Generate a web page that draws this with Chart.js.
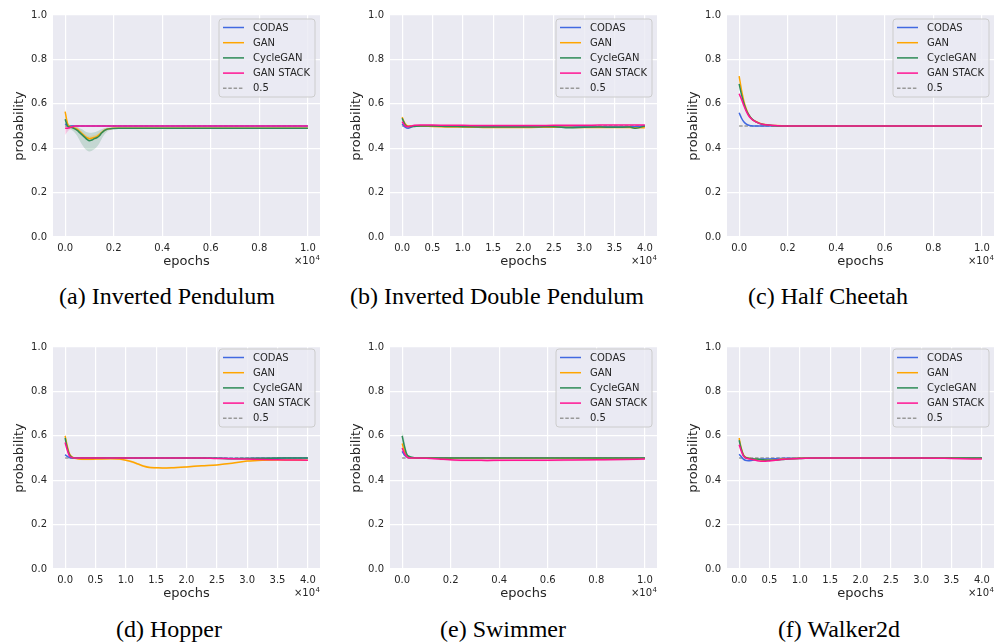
<!DOCTYPE html>
<html><head><meta charset="utf-8">
<script src="https://cdn.jsdelivr.net/npm/chart.js@4.4.0/dist/chart.umd.min.js"></script>
<style>
html,body{margin:0;padding:0;background:#fff;width:994px;height:642px;overflow:hidden;position:relative;}
.cap{position:absolute;font-family:"Liberation Serif","Times New Roman",serif;font-size:24px;color:#000;white-space:nowrap;transform:translate(-50%,-50%);}
</style></head><body>
<script>
// ---------- labels ----------
const seriesNames = ['CODAS', 'GAN', 'CycleGAN', 'GAN STACK', '0.5'];
const yTicks = [0, 0.2, 0.4, 0.6, 0.8, 1.0];
const yTickLabels = ['0.0', '0.2', '0.4', '0.6', '0.8', '1.0'];
const xTicks10k = [0, 2000, 4000, 6000, 8000, 10000];
const xTickLabels10k = ['0.0', '0.2', '0.4', '0.6', '0.8', '1.0'];
const xTicks40k = [0, 5000, 10000, 15000, 20000, 25000, 30000, 35000, 40000];
const xTickLabels40k = ['0.0', '0.5', '1.0', '1.5', '2.0', '2.5', '3.0', '3.5', '4.0'];
const captions = ['(a) Inverted Pendulum', '(b) Inverted Double Pendulum', '(c) Half Cheetah', '(d) Hopper', '(e) Swimmer', '(f) Walker2d'];

// ---------- (a) Inverted Pendulum ----------
const a_x        = [0, 100, 200, 300, 400, 500, 600, 700, 800, 900, 1000, 1100, 1200, 1300, 1400, 1500, 1600, 1700, 1800, 2000, 2200, 2500, 3000, 4000, 5000, 6000, 7000, 8000, 9000, 10000];
const a_codas    = [0.51, 0.502, 0.5, 0.5, 0.5, 0.5, 0.5, 0.5, 0.5, 0.5, 0.5, 0.5, 0.5, 0.5, 0.5, 0.5, 0.5, 0.5, 0.5, 0.5, 0.5, 0.5, 0.5, 0.5, 0.5, 0.5, 0.5, 0.5, 0.5, 0.5];
const a_gan      = [0.565, 0.51, 0.498, 0.495, 0.49, 0.485, 0.475, 0.465, 0.455, 0.447, 0.443, 0.445, 0.448, 0.452, 0.46, 0.47, 0.479, 0.485, 0.488, 0.49, 0.49, 0.49, 0.49, 0.49, 0.49, 0.49, 0.49, 0.49, 0.49, 0.49];
const a_gan_lo   = [0.55, 0.5, 0.49, 0.487, 0.482, 0.476, 0.465, 0.455, 0.445, 0.437, 0.432, 0.434, 0.437, 0.442, 0.45, 0.462, 0.472, 0.48, 0.485, 0.487, 0.488, 0.488, 0.488, 0.488, 0.488, 0.488, 0.488, 0.488, 0.488, 0.488];
const a_gan_hi   = [0.58, 0.52, 0.505, 0.502, 0.498, 0.493, 0.485, 0.475, 0.465, 0.457, 0.454, 0.456, 0.459, 0.463, 0.47, 0.478, 0.486, 0.49, 0.491, 0.492, 0.492, 0.492, 0.492, 0.492, 0.492, 0.492, 0.492, 0.492, 0.492, 0.492];
const a_cycle    = [0.53, 0.5, 0.495, 0.492, 0.487, 0.48, 0.47, 0.46, 0.45, 0.44, 0.434, 0.437, 0.443, 0.447, 0.455, 0.468, 0.478, 0.484, 0.487, 0.489, 0.49, 0.49, 0.49, 0.49, 0.49, 0.49, 0.49, 0.49, 0.49, 0.49];
const a_cycle_lo = [0.51, 0.49, 0.485, 0.48, 0.47, 0.455, 0.435, 0.415, 0.4, 0.39, 0.385, 0.388, 0.395, 0.405, 0.42, 0.44, 0.46, 0.472, 0.48, 0.486, 0.488, 0.488, 0.488, 0.488, 0.488, 0.488, 0.488, 0.488, 0.488, 0.488];
const a_cycle_hi = [0.55, 0.51, 0.5, 0.498, 0.497, 0.495, 0.49, 0.485, 0.478, 0.472, 0.47, 0.47, 0.472, 0.475, 0.48, 0.485, 0.49, 0.492, 0.493, 0.493, 0.492, 0.492, 0.492, 0.492, 0.492, 0.492, 0.492, 0.492, 0.492, 0.492];
const a_stack    = [0.49, 0.49, 0.493, 0.497, 0.5, 0.5, 0.5, 0.5, 0.5, 0.5, 0.5, 0.5, 0.5, 0.5, 0.5, 0.5, 0.5, 0.5, 0.5, 0.5, 0.5, 0.5, 0.5, 0.5, 0.5, 0.5, 0.5, 0.5, 0.5, 0.5];
const a_stack_lo = [0.46, 0.475, 0.487, 0.495, 0.498, 0.499, 0.499, 0.499, 0.499, 0.499, 0.499, 0.499, 0.499, 0.499, 0.499, 0.499, 0.499, 0.499, 0.499, 0.499, 0.499, 0.499, 0.499, 0.499, 0.499, 0.499, 0.499, 0.499, 0.499, 0.499];
const a_stack_hi = [0.51, 0.5, 0.5, 0.5, 0.502, 0.501, 0.501, 0.501, 0.501, 0.501, 0.501, 0.501, 0.501, 0.501, 0.501, 0.501, 0.501, 0.501, 0.501, 0.501, 0.501, 0.501, 0.501, 0.501, 0.501, 0.501, 0.501, 0.501, 0.501, 0.501];

// ---------- (b) Inverted Double Pendulum ----------
const b_x     = [0, 500, 1000, 1500, 2000, 3000, 5000, 7500, 10000, 12500, 15000, 17500, 20000, 22500, 25000, 27500, 30000, 32500, 35000, 37500, 38500, 40000];
const b_codas = [0.51, 0.495, 0.49, 0.495, 0.5, 0.5, 0.5, 0.499, 0.498, 0.497, 0.497, 0.497, 0.497, 0.497, 0.497, 0.497, 0.497, 0.497, 0.497, 0.497, 0.497, 0.5];
const b_gan   = [0.54, 0.51, 0.5, 0.5, 0.5, 0.5, 0.498, 0.496, 0.495, 0.494, 0.493, 0.493, 0.493, 0.494, 0.494, 0.494, 0.493, 0.493, 0.493, 0.493, 0.492, 0.492];
const b_cycle = [0.535, 0.505, 0.497, 0.497, 0.498, 0.5, 0.5, 0.498, 0.497, 0.496, 0.495, 0.495, 0.495, 0.496, 0.497, 0.492, 0.494, 0.495, 0.494, 0.495, 0.49, 0.5];
const b_stack = [0.52, 0.5, 0.497, 0.5, 0.503, 0.504, 0.504, 0.503, 0.503, 0.502, 0.502, 0.502, 0.502, 0.502, 0.503, 0.503, 0.503, 0.504, 0.504, 0.505, 0.505, 0.505];

// ---------- (c) Half Cheetah ----------
const c_x     = [0, 100, 200, 300, 400, 500, 600, 800, 1000, 1200, 1500, 2000, 3000, 5000, 7500, 10000];
const c_codas = [0.56, 0.535, 0.518, 0.508, 0.503, 0.501, 0.5, 0.5, 0.5, 0.5, 0.5, 0.5, 0.5, 0.5, 0.5, 0.5];
const c_gan   = [0.725, 0.66, 0.61, 0.575, 0.55, 0.535, 0.525, 0.515, 0.508, 0.505, 0.502, 0.5, 0.5, 0.5, 0.5, 0.5];
const c_cycle = [0.69, 0.64, 0.6, 0.57, 0.55, 0.535, 0.525, 0.513, 0.507, 0.504, 0.501, 0.5, 0.5, 0.5, 0.5, 0.5];
const c_stack = [0.645, 0.62, 0.59, 0.565, 0.545, 0.533, 0.524, 0.513, 0.507, 0.504, 0.502, 0.5, 0.5, 0.5, 0.5, 0.5];

// ---------- (d) Hopper ----------
const d_x      = [0, 300, 700, 1000, 1500, 2000, 3000, 5000, 7500, 9000, 10000, 11000, 12000, 13000, 14000, 15000, 16000, 17500, 20000, 22500, 25000, 27500, 30000, 32500, 35000, 37500, 40000];
const d_codas  = [0.515, 0.508, 0.502, 0.5, 0.5, 0.5, 0.5, 0.5, 0.5, 0.5, 0.5, 0.5, 0.5, 0.5, 0.5, 0.5, 0.5, 0.5, 0.5, 0.5, 0.499, 0.498, 0.498, 0.499, 0.499, 0.5, 0.5];
const d_gan    = [0.6, 0.56, 0.52, 0.508, 0.5, 0.497, 0.494, 0.495, 0.497, 0.495, 0.49, 0.483, 0.473, 0.463, 0.457, 0.456, 0.455, 0.456, 0.46, 0.465, 0.469, 0.476, 0.486, 0.49, 0.491, 0.491, 0.49];
const d_gan_lo = [0.585, 0.55, 0.513, 0.503, 0.496, 0.493, 0.49, 0.491, 0.493, 0.491, 0.486, 0.478, 0.468, 0.458, 0.452, 0.451, 0.451, 0.452, 0.456, 0.461, 0.466, 0.473, 0.483, 0.488, 0.489, 0.489, 0.488];
const d_gan_hi = [0.61, 0.57, 0.527, 0.513, 0.504, 0.501, 0.498, 0.499, 0.501, 0.499, 0.494, 0.488, 0.478, 0.468, 0.462, 0.461, 0.46, 0.461, 0.464, 0.469, 0.472, 0.479, 0.489, 0.492, 0.493, 0.493, 0.492];
const d_cycle  = [0.59, 0.55, 0.515, 0.505, 0.5, 0.5, 0.5, 0.5, 0.5, 0.5, 0.5, 0.5, 0.5, 0.5, 0.5, 0.5, 0.5, 0.5, 0.5, 0.5, 0.499, 0.497, 0.498, 0.499, 0.5, 0.5, 0.5];
const d_stack  = [0.57, 0.54, 0.51, 0.503, 0.5, 0.5, 0.5, 0.5, 0.5, 0.5, 0.5, 0.5, 0.5, 0.5, 0.5, 0.5, 0.5, 0.5, 0.5, 0.5, 0.498, 0.497, 0.495, 0.493, 0.492, 0.491, 0.49];

// ---------- (e) Swimmer ----------
const e_x        = [0, 100, 200, 300, 400, 600, 1000, 1500, 2000, 2500, 3000, 3500, 4000, 5000, 6000, 7000, 8000, 9000, 10000];
const e_codas    = [0.53, 0.512, 0.505, 0.502, 0.5, 0.5, 0.5, 0.5, 0.5, 0.5, 0.5, 0.5, 0.5, 0.5, 0.5, 0.5, 0.5, 0.5, 0.5];
const e_gan      = [0.565, 0.53, 0.51, 0.504, 0.501, 0.5, 0.5, 0.499, 0.499, 0.499, 0.499, 0.499, 0.499, 0.499, 0.499, 0.499, 0.499, 0.499, 0.499];
const e_cycle    = [0.6, 0.55, 0.515, 0.507, 0.503, 0.5, 0.5, 0.5, 0.5, 0.5, 0.5, 0.5, 0.5, 0.5, 0.5, 0.5, 0.5, 0.5, 0.5];
const e_cycle_lo = [0.57, 0.53, 0.508, 0.503, 0.5, 0.498, 0.498, 0.498, 0.498, 0.498, 0.498, 0.498, 0.498, 0.498, 0.498, 0.498, 0.498, 0.498, 0.498];
const e_cycle_hi = [0.63, 0.575, 0.522, 0.51, 0.505, 0.502, 0.502, 0.502, 0.502, 0.502, 0.502, 0.502, 0.502, 0.502, 0.502, 0.502, 0.502, 0.502, 0.502];
const e_stack    = [0.545, 0.52, 0.505, 0.5, 0.5, 0.5, 0.499, 0.496, 0.492, 0.49, 0.49, 0.489, 0.49, 0.49, 0.49, 0.491, 0.492, 0.493, 0.495];
const e_stack_lo = [0.53, 0.51, 0.5, 0.496, 0.496, 0.496, 0.495, 0.491, 0.486, 0.484, 0.484, 0.483, 0.484, 0.485, 0.485, 0.486, 0.488, 0.489, 0.491];
const e_stack_hi = [0.56, 0.53, 0.51, 0.504, 0.504, 0.504, 0.503, 0.5, 0.497, 0.496, 0.496, 0.495, 0.496, 0.495, 0.495, 0.496, 0.496, 0.497, 0.499];

// ---------- (f) Walker2d ----------
const f_x     = [0, 300, 700, 1000, 1500, 2000, 3000, 4000, 5000, 6000, 7000, 8000, 10000, 12500, 15000, 20000, 25000, 30000, 35000, 40000];
const f_codas = [0.517, 0.508, 0.495, 0.49, 0.488, 0.489, 0.493, 0.495, 0.496, 0.497, 0.498, 0.499, 0.5, 0.5, 0.5, 0.5, 0.5, 0.5, 0.5, 0.5];
const f_gan   = [0.59, 0.55, 0.515, 0.505, 0.5, 0.497, 0.493, 0.49, 0.49, 0.492, 0.495, 0.497, 0.499, 0.5, 0.5, 0.5, 0.5, 0.5, 0.5, 0.499];
const f_cycle = [0.58, 0.545, 0.512, 0.503, 0.499, 0.497, 0.495, 0.492, 0.49, 0.491, 0.493, 0.495, 0.498, 0.5, 0.5, 0.5, 0.5, 0.5, 0.5, 0.5];
const f_stack = [0.56, 0.535, 0.51, 0.502, 0.497, 0.494, 0.488, 0.485, 0.487, 0.49, 0.493, 0.495, 0.498, 0.5, 0.5, 0.5, 0.5, 0.5, 0.498, 0.495];

// ---------- styling ----------
const COLORS = ['#4169e1', '#ffa500', '#2e8b57', '#ff1493'];
const BAND_COLORS = ['rgba(65,105,225,0.2)', 'rgba(255,165,0,0.2)', 'rgba(46,139,87,0.2)', 'rgba(255,20,147,0.2)'];
const DASH_COLOR = '#999999';
const TEXT = '#262626';
const FONT = '"DejaVu Sans", sans-serif';
const PLOT_W = 267, PLOT_H = 222, AX_W = 53, PAD_T = 15, AX_H = 42;

const panels = [
  { left: 53,  top: 15,  xMax: 10000, xTicks: xTicks10k, xLabels: xTickLabels10k, cap: captions[0], capX: 167, capY: 296, legTop: 4,
    x: a_x, series: [a_codas, a_gan, a_cycle, a_stack], bands: [null, [a_gan_lo, a_gan_hi], [a_cycle_lo, a_cycle_hi], [a_stack_lo, a_stack_hi]] },
  { left: 390, top: 15,  xMax: 40000, xTicks: xTicks40k, xLabels: xTickLabels40k, cap: captions[1], capX: 497, capY: 296, legTop: 4,
    x: b_x, series: [b_codas, b_gan, b_cycle, b_stack], bands: [null, null, null, null] },
  { left: 727, top: 15,  xMax: 10000, xTicks: xTicks10k, xLabels: xTickLabels10k, cap: captions[2], capX: 828, capY: 296, legTop: 4,
    x: c_x, series: [c_codas, c_gan, c_cycle, c_stack], bands: [null, null, null, null] },
  { left: 53,  top: 347, xMax: 40000, xTicks: xTicks40k, xLabels: xTickLabels40k, cap: captions[3], capX: 169, capY: 629, legTop: 2,
    x: d_x, series: [d_codas, d_gan, d_cycle, d_stack], bands: [null, [d_gan_lo, d_gan_hi], null, null] },
  { left: 390, top: 347, xMax: 10000, xTicks: xTicks10k, xLabels: xTickLabels10k, cap: captions[4], capX: 503, capY: 629, legTop: 2,
    x: e_x, series: [e_codas, e_gan, e_cycle, e_stack], bands: [null, null, [e_cycle_lo, e_cycle_hi], [e_stack_lo, e_stack_hi]] },
  { left: 727, top: 347, xMax: 40000, xTicks: xTicks40k, xLabels: xTickLabels40k, cap: captions[5], capX: 839, capY: 629, legTop: 2,
    x: f_x, series: [f_codas, f_gan, f_cycle, f_stack], bands: [null, null, null, null] }
];

const pts = (xs, ys) => xs.map((x, i) => ({ x: x, y: ys[i] }));

const bgPlugin = {
  id: 'bg',
  beforeDraw(chart) {
    const a = chart.chartArea, ctx = chart.ctx;
    ctx.save(); ctx.fillStyle = '#eaeaf2';
    ctx.fillRect(a.left, a.top, a.right - a.left, a.bottom - a.top);
    ctx.restore();
  }
};

const decoPlugin = {
  id: 'deco',
  afterDraw(chart, args, opts) {
    const a = chart.chartArea, ctx = chart.ctx;
    ctx.save();
    ctx.fillStyle = TEXT;
    // axis titles
    ctx.font = '13px ' + FONT;
    ctx.textAlign = 'center'; ctx.textBaseline = 'middle';
    ctx.fillText('epochs', (a.left + a.right) / 2, a.bottom + 25);
    ctx.save();
    ctx.translate(a.left - 33, (a.top + a.bottom) / 2);
    ctx.rotate(-Math.PI / 2);
    ctx.fillText('probability', 0, 0);
    ctx.restore();
    // offset text ×10^4
    ctx.textBaseline = 'alphabetic'; ctx.textAlign = 'right';
    ctx.font = '7px ' + FONT;
    const w4 = ctx.measureText('4').width;
    ctx.fillText('4', a.right, a.bottom + 23);
    ctx.font = '10px ' + FONT;
    ctx.fillText('\u00d710', a.right - w4 - 0.5, a.bottom + 27);
    // legend
    const lw = 96, lh = 78;
    const lx = a.right - 5 - lw, ly = a.top + opts.legTop;
    ctx.beginPath();
    const r = 3;
    ctx.moveTo(lx + r, ly); ctx.lineTo(lx + lw - r, ly); ctx.quadraticCurveTo(lx + lw, ly, lx + lw, ly + r);
    ctx.lineTo(lx + lw, ly + lh - r); ctx.quadraticCurveTo(lx + lw, ly + lh, lx + lw - r, ly + lh);
    ctx.lineTo(lx + r, ly + lh); ctx.quadraticCurveTo(lx, ly + lh, lx, ly + lh - r);
    ctx.lineTo(lx, ly + r); ctx.quadraticCurveTo(lx, ly, lx + r, ly);
    ctx.closePath();
    ctx.fillStyle = 'rgba(234,234,242,0.8)'; ctx.fill();
    ctx.strokeStyle = '#cccccc'; ctx.lineWidth = 1; ctx.stroke();
    ctx.font = '10px ' + FONT; ctx.textAlign = 'left'; ctx.textBaseline = 'middle';
    for (let i = 0; i < seriesNames.length; i++) {
      const yy = ly + 8.5 + i * 15.2;
      ctx.beginPath();
      ctx.moveTo(lx + 4, yy); ctx.lineTo(lx + 25, yy);
      if (i < 4) { ctx.strokeStyle = COLORS[i]; ctx.setLineDash([]); ctx.lineWidth = 1.5; }
      else { ctx.strokeStyle = DASH_COLOR; ctx.setLineDash([3.5, 1.8]); ctx.lineWidth = 1.5; }
      ctx.stroke();
      ctx.setLineDash([]);
      ctx.fillStyle = TEXT;
      ctx.fillText(seriesNames[i], lx + 34, yy + 0.5);
    }
    ctx.restore();
  }
};

panels.forEach(p => {
  const c = document.createElement('canvas');
  const W = AX_W + PLOT_W + 2, H = PAD_T + PLOT_H + AX_H;
  c.width = W; c.height = H;
  c.style.position = 'absolute';
  c.style.left = (p.left - AX_W) + 'px';
  c.style.top = (p.top - PAD_T) + 'px';
  c.style.width = W + 'px'; c.style.height = H + 'px';
  document.body.appendChild(c);

  const datasets = [];
  // dashed 0.5 reference
  datasets.push({ label: seriesNames[4], data: pts([0, p.xMax], [0.5, 0.5]),
    borderColor: DASH_COLOR, borderWidth: 1.5, borderDash: [3.5, 1.8], pointRadius: 0, fill: false, order: 100 });
  // bands
  p.bands.forEach((b, i) => {
    if (!b) return;
    const loIdx = datasets.length;
    datasets.push({ label: 'lo' + i, data: pts(p.x, b[0]), borderWidth: 0, borderColor: 'transparent',
      pointRadius: 0, fill: false, cubicInterpolationMode: 'monotone', order: 50 + i });
    datasets.push({ label: 'hi' + i, data: pts(p.x, b[1]), borderWidth: 0, borderColor: 'transparent',
      backgroundColor: BAND_COLORS[i], pointRadius: 0, fill: loIdx, cubicInterpolationMode: 'monotone', order: 50 + i });
  });
  // mean lines
  p.series.forEach((s, i) => {
    datasets.push({ label: seriesNames[i], data: pts(p.x, s), borderColor: COLORS[i], borderWidth: 1.5,
      pointRadius: 0, fill: false, cubicInterpolationMode: 'monotone', order: 4 - i });
  });

  new Chart(c.getContext('2d'), {
    type: 'line',
    data: { datasets },
    options: {
      responsive: false, animation: false, devicePixelRatio: 1,
      layout: { padding: { top: PAD_T, right: 2, left: 0, bottom: 0 } },
      plugins: { legend: { display: false }, tooltip: { enabled: false }, deco: { legTop: p.legTop } },
      scales: {
        x: {
          type: 'linear', min: -p.xMax * 0.05, max: p.xMax * 1.05,
          afterBuildTicks: s => { s.ticks = p.xTicks.map(v => ({ value: v })); },
          afterFit: s => { s.height = AX_H; },
          grid: { color: '#ffffff', lineWidth: 1.2, drawTicks: false },
          border: { display: false },
          ticks: { padding: 5, autoSkip: false, maxRotation: 0, color: TEXT, font: { family: FONT, size: 10 },
            callback: (v, i) => p.xLabels[i] }
        },
        y: {
          min: 0, max: 1,
          afterBuildTicks: s => { s.ticks = yTicks.map(v => ({ value: v })); },
          afterFit: s => { s.width = AX_W; },
          grid: { color: '#ffffff', lineWidth: 1.2, drawTicks: false },
          border: { display: false },
          ticks: { padding: 6, autoSkip: false, color: TEXT, font: { family: FONT, size: 10 },
            callback: (v, i) => yTickLabels[i] }
        }
      }
    },
    plugins: [bgPlugin, decoPlugin]
  });

  const cap = document.createElement('div');
  cap.className = 'cap';
  cap.textContent = p.cap;
  cap.style.left = p.capX + 'px';
  cap.style.top = p.capY + 'px';
  document.body.appendChild(cap);
});
</script>
</body></html>
